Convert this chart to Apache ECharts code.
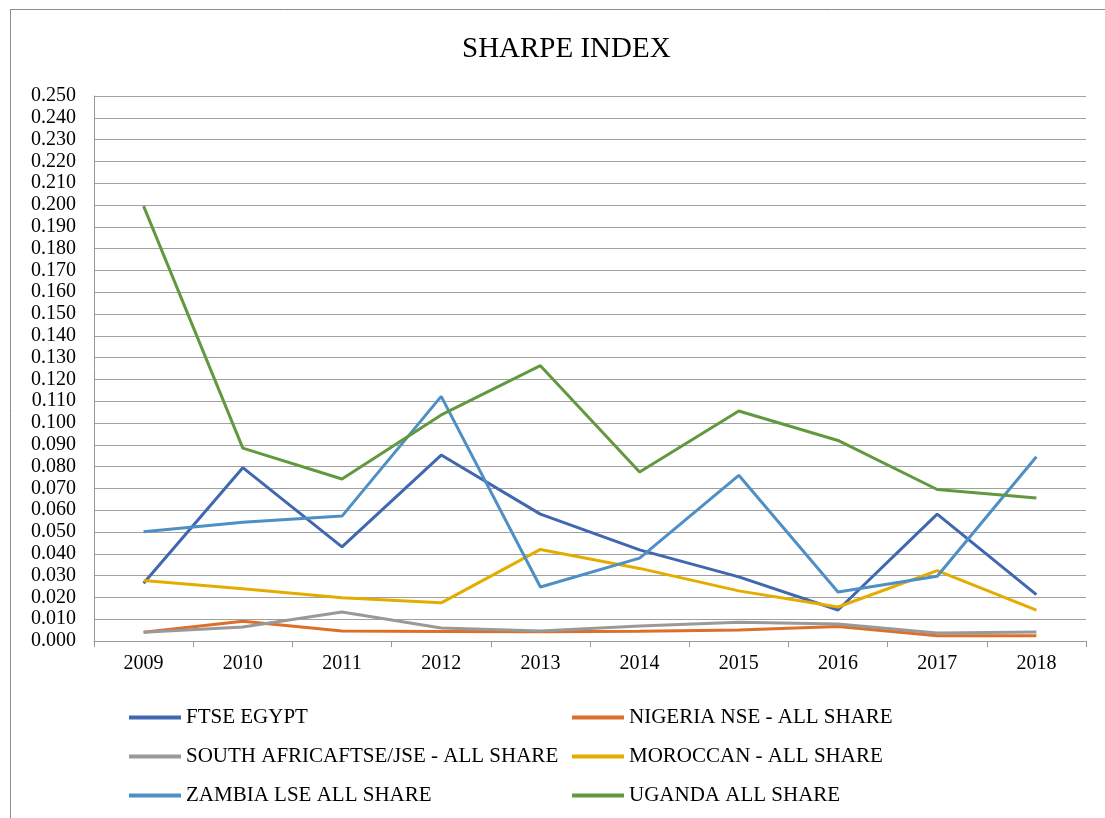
<!DOCTYPE html>
<html>
<head>
<meta charset="utf-8">
<script src="https://cdn.jsdelivr.net/npm/echarts@6/dist/echarts.min.js"></script>
<style>
html,body{margin:0;padding:0;background:#fff;}
#chart{width:1105px;height:818px;}
</style>
</head>
<body>
<div id="chart"></div>
<script>
var years = ['2009','2010','2011','2012','2013','2014','2015','2016','2017','2018'];
var egypt    = [0.0265,0.0795,0.0432,0.0853,0.0582,0.0418,0.0294,0.0142,0.0582,0.0213];
var nigeria  = [0.0040,0.0091,0.0046,0.0044,0.0042,0.0045,0.0050,0.0066,0.0024,0.0024];
var safrica  = [0.0040,0.0064,0.0133,0.0060,0.0046,0.0069,0.0086,0.0078,0.0037,0.0041];
var morocco  = [0.0277,0.0240,0.0198,0.0175,0.0420,0.0333,0.0230,0.0156,0.0323,0.0142];
var zambia   = [0.0501,0.0545,0.0573,0.1122,0.0248,0.0380,0.0760,0.0225,0.0297,0.0845];
var uganda   = [0.1995,0.0885,0.0743,0.1037,0.1263,0.0775,0.1055,0.0920,0.0695,0.0656];

var names = ['FTSE EGYPT','NIGERIA NSE - ALL SHARE','SOUTH AFRICAFTSE/JSE - ALL SHARE','MOROCCAN - ALL SHARE','ZAMBIA LSE ALL SHARE','UGANDA ALL SHARE'];
var colors = ['#4067B0','#DC6F2A','#999999','#E5AC00','#4E8FC5','#62993E'];
var values = [egypt,nigeria,safrica,morocco,zambia,uganda];

var font = '"Liberation Serif","Times New Roman",serif';

var chart = echarts.init(document.getElementById('chart'));
var series = [];
for (var i = 0; i < names.length; i++) {
	series.push({
		name: names[i],
		type: 'line',
		data: values[i],
		symbol: 'none',
		lineStyle: {width: 3, color: colors[i]},
		itemStyle: {color: colors[i]}
	});
}
var legendStyle = {
	orient: 'vertical',
	top: 702,
	itemWidth: 52,
	itemHeight: 4,
	itemGap: 18,
	icon: 'rect',
	textStyle: {fontFamily: font, fontSize: 21, color: '#000'}
};
var option = {
	backgroundColor: '#fff',
	color: colors,
	title: {
		text: 'SHARPE INDEX',
		left: 457,
		top: 30,
		textStyle: {fontFamily: font, fontSize: 29, fontWeight: 'normal', color: '#000'}
	},
	legend: [
		Object.assign({left: 124, data: [names[0], names[2], names[4]]}, legendStyle),
		Object.assign({left: 567, data: [names[1], names[3], names[5]]}, legendStyle)
	],
	grid: {left: 94, right: 19, top: 96, bottom: 177},
	xAxis: {
		type: 'category',
		data: years,
		boundaryGap: true,
		axisLine: {lineStyle: {color: '#999', width: 1}},
		axisTick: {show: true, length: 6, lineStyle: {color: '#999'}},
		axisLabel: {fontFamily: font, fontSize: 20, color: '#000', margin: 13}
	},
	yAxis: {
		type: 'value',
		min: 0,
		max: 0.25,
		interval: 0.01,
		axisLine: {show: true, lineStyle: {color: '#999', width: 1}},
		axisTick: {show: false},
		splitLine: {lineStyle: {color: '#a0a0a0', width: 1}},
		axisLabel: {
			fontFamily: font, fontSize: 20, color: '#000', margin: 18,
			formatter: function(v){ return v.toFixed(3); }
		}
	},
	graphic: [
		{type: 'line', shape: {x1: 10, y1: 9.5, x2: 1105, y2: 9.5}, style: {stroke: '#8c8c8c', lineWidth: 1}},
		{type: 'line', shape: {x1: 10.5, y1: 9, x2: 10.5, y2: 818}, style: {stroke: '#8c8c8c', lineWidth: 1}}
	],
	series: series
};
chart.setOption(option);
</script>
</body>
</html>
